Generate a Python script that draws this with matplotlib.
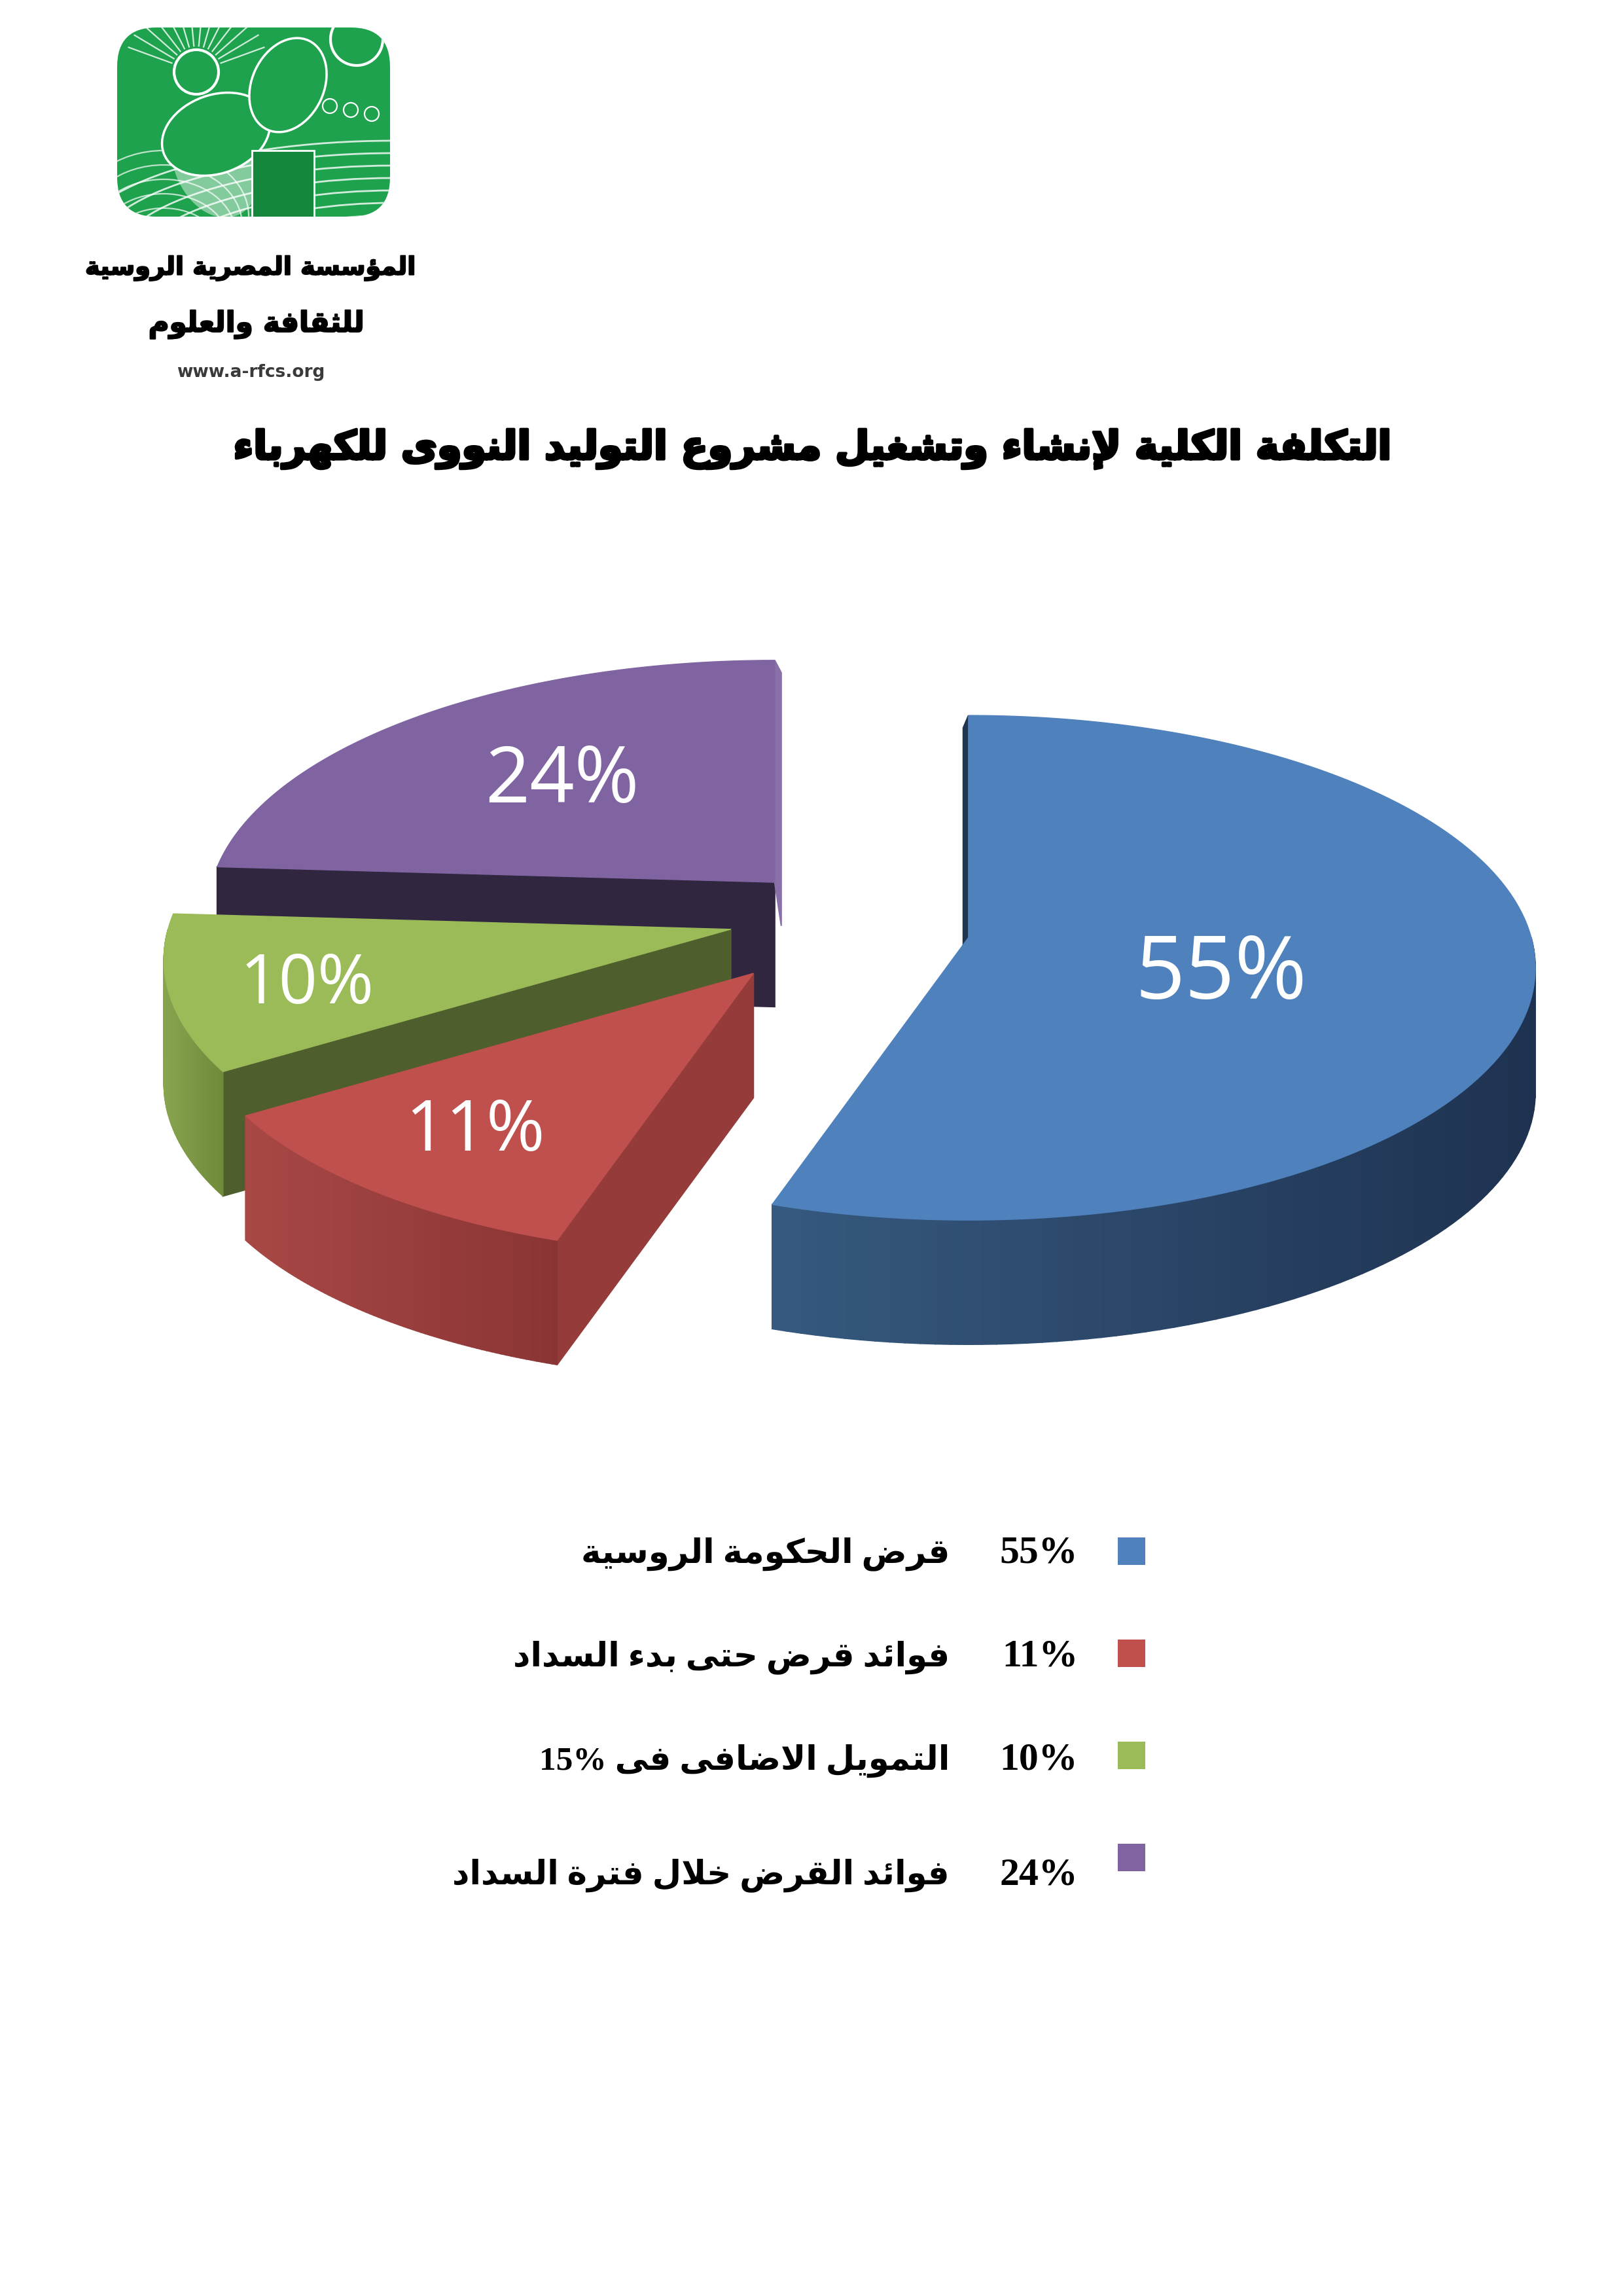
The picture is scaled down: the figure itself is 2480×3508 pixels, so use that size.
import re
import numpy as np
import matplotlib
matplotlib.use('Agg')
import matplotlib.pyplot as plt
import matplotlib.patheffects as pe
from matplotlib.patches import Polygon, FancyBboxPatch, Rectangle, Circle, Ellipse
from matplotlib.colors import to_rgb

# ---------------- data ----------------
shares = [55, 11, 10, 24]
slice_labels = ['55%', '11%', '10%', '24%']
legend_pcts = ['55%', '11%', '10%', '24%']
legend_texts = ['قرض الحكومة الروسية',
                'فوائد قرض حتى بدء السداد',
                'التمويل الاضافى فى 15%',
                'فوائد القرض خلال فترة السداد']
title_text = 'التكلفة الكلية لإنشاء وتشغيل مشروع التوليد النووى للكهرباء'
logo_line1 = 'المؤسسة المصرية الروسية'
logo_line2 = 'للثقافة والعلوم'
logo_url = 'www.a-rfcs.org'

# ---------------- styles ----------------
top_colors = ['#4F81BD', '#C0504D', '#9BBB59', '#8064A2']
wall_light = ['#36597F', '#A84845', '#88A44F', '#3A2D4C']
wall_dark = ['#1E3250', '#8A3535', '#6F8B3B', '#2B2238']
face_colors = ['#1F3552', '#953C3B', '#4E5E2C', '#30263F']
explode = [0.30, 0.14, 0.13, 0.07]
label_r = [0.45, 0.75, 0.76, 0.58]
label_dy = [32, 0, 12, 0]
label_size = [96, 78, 75, 86]
legend_text_y = [2374, 2532, 2690, 2865]

# ---------------- Arabic shaping (presentation forms) ----------------
_FORMS = {'\u0621': (0xFE80, None, None, None)}
for ch, b in {'\u0622': 0xFE81, '\u0623': 0xFE83, '\u0624': 0xFE85, '\u0625': 0xFE87,
              '\u0627': 0xFE8D, '\u0629': 0xFE93, '\u062F': 0xFEA9, '\u0630': 0xFEAB,
              '\u0631': 0xFEAD, '\u0632': 0xFEAF, '\u0648': 0xFEED, '\u0649': 0xFEEF}.items():
    _FORMS[ch] = (b, b + 1, None, None)
for ch, b in {'\u0626': 0xFE89, '\u0628': 0xFE8F, '\u062A': 0xFE95, '\u062B': 0xFE99,
              '\u062C': 0xFE9D, '\u062D': 0xFEA1, '\u062E': 0xFEA5, '\u0633': 0xFEB1,
              '\u0634': 0xFEB5, '\u0635': 0xFEB9, '\u0636': 0xFEBD, '\u0637': 0xFEC1,
              '\u0638': 0xFEC5, '\u0639': 0xFEC9, '\u063A': 0xFECD, '\u0641': 0xFED1,
              '\u0642': 0xFED5, '\u0643': 0xFED9, '\u0644': 0xFEDD, '\u0645': 0xFEE1,
              '\u0646': 0xFEE5, '\u0647': 0xFEE9, '\u064A': 0xFEF1}.items():
    _FORMS[ch] = (b, b + 1, b + 2, b + 3)
_LAM_ALEF = {'\u0622': 0xFEF5, '\u0623': 0xFEF7, '\u0625': 0xFEF9, '\u0627': 0xFEFB}


def _dual(c):
    return c in _FORMS and _FORMS[c][2] is not None


def shape(text):
    chars = list(text)
    n = len(chars)
    out = []
    i = 0
    while i < n:
        c = chars[i]
        if c not in _FORMS:
            out.append(c)
            i += 1
            continue
        prev = chars[i - 1] if i > 0 else None
        jp = prev is not None and _dual(prev) and c != '\u0621'
        if c == '\u0644' and i + 1 < n and chars[i + 1] in _LAM_ALEF:
            out.append(chr(_LAM_ALEF[chars[i + 1]] + (1 if jp else 0)))
            i += 2
            continue
        nxt = chars[i + 1] if i + 1 < n else None
        jn = _dual(c) and nxt is not None and nxt in _FORMS and nxt != '\u0621'
        iso, fin, ini, med = _FORMS[c]
        if jp and jn:
            g = med
        elif jp:
            g = fin if fin else iso
        elif jn:
            g = ini
        else:
            g = iso
        out.append(chr(g))
        i += 1
    return ''.join(out)


def visual(text):
    s = shape(text)[::-1]
    return re.sub(r'[0-9A-Za-z%.,]+', lambda m: m.group(0)[::-1], s)


# ---------------- figure ----------------
W, H = 2480, 3508
fig = plt.figure(figsize=(W / 100, H / 100), dpi=100)
ax = fig.add_axes([0, 0, 1, 1])
ax.set_xlim(0, W)
ax.set_ylim(H, 0)
ax.axis('off')
renderer = fig.canvas.get_renderer()


def fit(t, target_w):
    w = t.get_window_extent(renderer).width
    t.set_fontsize(t.get_fontsize() * target_w / w)


AR = ['DejaVu Sans']

# ---------------- logo ----------------
box = FancyBboxPatch((179, 42), 417, 289, boxstyle='round,pad=0,rounding_size=60',
                     facecolor='#1FA24E', edgecolor='none', zorder=1)
ax.add_patch(box)
deco = []
for k in range(12):
    deco.append(Ellipse((600, 380 + k * 12), 980 - k * 60, 330 - k * 14, fill=False,
                        edgecolor='white', lw=2.0, alpha=0.8, zorder=2))
for k in range(6):
    deco.append(Ellipse((250, 330 + k * 14), 260 - k * 20, 200 - k * 16, fill=False,
                        edgecolor='white', lw=1.6, alpha=0.7, zorder=2))
deco.append(Circle((300, 110), 34, fill=False, edgecolor='white', lw=3, zorder=2))
deco.append(Circle((545, 60), 40, fill=False, edgecolor='white', lw=3, zorder=2))
for k in range(5):
    deco.append(Circle((440 + k * 32, 150 + k * 6), 11, fill=False, edgecolor='white',
                       lw=1.6, zorder=2))
for ang in np.linspace(200, 340, 14):
    a = np.radians(ang)
    x0, y0 = 300 + 40 * np.cos(a), 110 + 40 * np.sin(a)
    x1, y1 = 300 + 110 * np.cos(a), 110 + 110 * np.sin(a)
    ln, = ax.plot([x0, x1], [y0, y1], color='white', lw=1.6, alpha=0.8, zorder=2)
    ln.set_clip_path(box)
for e in deco:
    ax.add_patch(e)
    e.set_clip_path(box)
for p in [Ellipse((330, 245), 130, 180, angle=-20, facecolor='#FFFFFF', edgecolor='none',
                  alpha=0.45, zorder=3),
          Ellipse((330, 205), 170, 120, angle=-20, facecolor='#1FA24E', edgecolor='white',
                  lw=2.5, zorder=3),
          Rectangle((385, 230), 95, 110, facecolor='#14873C', edgecolor='white', lw=2,
                    zorder=3),
          Ellipse((440, 130), 110, 150, angle=25, facecolor='#1FA24E', edgecolor='white',
                  lw=2.5, zorder=3)]:
    ax.add_patch(p)
    p.set_clip_path(box)

t = ax.text(383, 410, visual(logo_line1), ha='center', va='center', fontsize=40,
            family=AR, fontweight='bold', color='black', zorder=3)
fit(t, 505)
t.set_path_effects([pe.withStroke(linewidth=1.5, foreground='black')])
t = ax.text(392, 496, visual(logo_line2), ha='center', va='center', fontsize=40,
            family=AR, fontweight='bold', color='black', zorder=3)
fit(t, 330)
t.set_path_effects([pe.withStroke(linewidth=1.5, foreground='black')])
ax.text(383, 569, logo_url, ha='center', va='center', fontsize=19,
        family=['DejaVu Sans'], fontweight='bold', color='#3A3A3A', zorder=3)

# ---------------- title ----------------
t = ax.text(1240, 686, visual(title_text), ha='center', va='center', fontsize=46,
            family=AR, fontweight='bold', color='black')
fit(t, 1770)
t.set_path_effects([pe.withStroke(linewidth=3, foreground='black')])

# ---------------- 3D exploded pie ----------------
cx, cy = 1225, 1392
rx, ry = 860, 380
depth = 190
persp = 0.12

fr = np.array(shares, dtype=float) / np.sum(shares)
edges = np.concatenate([[0.0], np.cumsum(fr)]) * 360.0


def pt(apex, th_deg, r=1.0):
    th = np.radians(th_deg)
    u, v = np.sin(th) * r, -np.cos(th) * r
    s = 1.0 / (1.0 - persp * v)
    return apex[0] + rx * u * s, apex[1] + ry * v * s


def mix(c1, c2, f):
    a, b = np.array(to_rgb(c1)), np.array(to_rgb(c2))
    return tuple(a + (b - a) * f)


z = 10
for k in [3, 2, 1, 0]:
    t1, t2 = edges[k], edges[k + 1]
    mid = 0.5 * (t1 + t2)
    m = np.radians(mid)
    apex = (cx + explode[k] * rx * np.sin(m), cy - explode[k] * rx * np.cos(m))

    # radial faces (visible ones)
    for th, vis in ((t1, np.sin(np.radians(t1)) <= 1e-9),
                    (t2, np.sin(np.radians(t2)) >= -1e-9)):
        if vis:
            px, py = pt(apex, th)
            if abs(px - apex[0]) < 1:
                px_off = -8 if th < 1 else 10
                poly = [(apex[0], apex[1]), (px, py), (px + px_off, py + depth * 0.1),
                        (apex[0] + px_off, apex[1] + depth * 0.35)]
                col = face_colors[k] if th < 1 else mix(top_colors[k], 'white', 0.08)
            else:
                poly = [(apex[0], apex[1]), (px, py), (px, py + depth),
                        (apex[0], apex[1] + depth)]
                col = face_colors[k]
            ax.add_patch(Polygon(poly, closed=True, facecolor=col,
                                 edgecolor=col, lw=1.5, zorder=z))
    z += 1

    # outer wall with horizontal gradient
    a, b = max(t1, 90.0), min(t2, 270.0)
    if a < b:
        ths = np.linspace(a, b, 80)
        pts = np.array([pt(apex, th) for th in ths])
        xmin, xmax = pts[:, 0].min(), pts[:, 0].max()
        for j in range(len(ths) - 1):
            (x0, y0), (x1, y1) = pts[j], pts[j + 1]
            f = ((x0 + x1) / 2 - xmin) / max(xmax - xmin, 1)
            col = mix(wall_light[k], wall_dark[k], f)
            ax.add_patch(Polygon([(x0, y0), (x1, y1), (x1, y1 + depth), (x0, y0 + depth)],
                                 closed=True, facecolor=col, edgecolor=col, lw=1.2, zorder=z))
    z += 1

    # top surface
    ths = np.linspace(t1, t2, 200)
    arc = [pt(apex, th) for th in ths]
    ax.add_patch(Polygon([apex] + arc, closed=True, facecolor=top_colors[k],
                         edgecolor=top_colors[k], lw=1, zorder=z))
    z += 1

    lx, ly = pt(apex, mid, label_r[k])
    ax.text(lx, ly + label_dy[k], slice_labels[k], ha='center', va='center', color='white',
            fontsize=label_size[k], family=['Open Sans', 'DejaVu Sans'], zorder=100)

# ---------------- legend ----------------
for i in range(len(shares)):
    sy = 2370 + i * 156
    ty = legend_text_y[i]
    ax.add_patch(Rectangle((1708, sy - 21), 42, 42, facecolor=top_colors[i],
                           edgecolor='none', zorder=5))
    ax.text(1647, ty, legend_pcts[i], ha='right', va='center', fontsize=43,
            family=['Liberation Serif'], fontweight='bold', color='black')
    ax.text(1451, ty, visual(legend_texts[i]), ha='right', va='center', fontsize=37,
            family=['Liberation Serif', 'DejaVu Sans'], fontweight='bold', color='black')

fig.savefig('out.png', dpi=100, facecolor='white')
